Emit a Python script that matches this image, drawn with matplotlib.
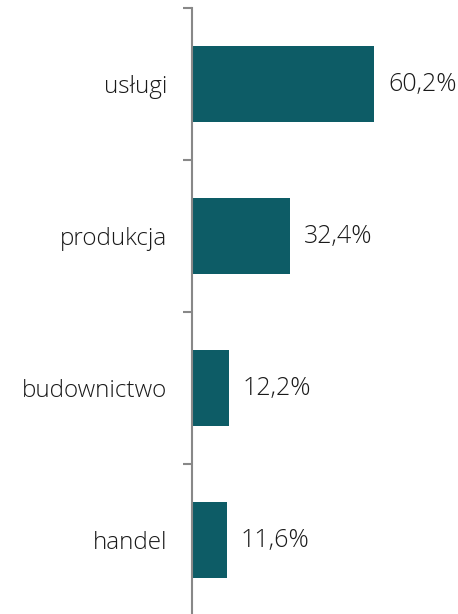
import matplotlib
matplotlib.use("Agg")
import matplotlib.pyplot as plt

categories = ["usługi", "produkcja", "budownictwo", "handel"]
values = [60.2, 32.4, 12.2, 11.6]
value_labels = ["60,2%", "32,4%", "12,2%", "11,6%"]

W, H = 458, 614
fig = plt.figure(figsize=(W / 100, H / 100), dpi=100)
ax = fig.add_axes([192 / W, -2 / H, 1 - 192 / W, (616 - 8) / H])

bar_color = "#0D5C66"
ypos = list(range(len(categories)))
ax.barh(ypos, values, height=0.5, color=bar_color)
ax.set_ylim(len(categories) - 0.5, -0.5)
ax.set_xlim(0, (W - 192) / 3.023)

font = ["Open Sans", "DejaVu Sans"]
for y, v, lab in zip(ypos, values, value_labels):
    ax.annotate(lab, (v, y), xytext=(14, 0), textcoords="offset pixels",
                va="center", ha="left", fontsize=18, color="#1a1a1a",
                family=font, fontweight="light")

ax.set_yticks([i - 0.5 for i in range(len(categories) + 1)])
ax.set_yticklabels([])
ax.set_yticks(ypos, minor=True)
ax.set_yticklabels(categories, minor=True, fontsize=17.5, color="#1a1a1a",
                   family=font, fontweight="light")
ax.tick_params(axis="y", which="major", length=6.5, width=1.5, color="#888888")
ax.tick_params(axis="y", which="minor", length=0, pad=18)
ax.set_xticks([])
for s in ["top", "right", "bottom"]:
    ax.spines[s].set_visible(False)
ax.spines["left"].set_color("#888888")
ax.spines["left"].set_linewidth(1.5)

fig.savefig("out.png", dpi=100)
